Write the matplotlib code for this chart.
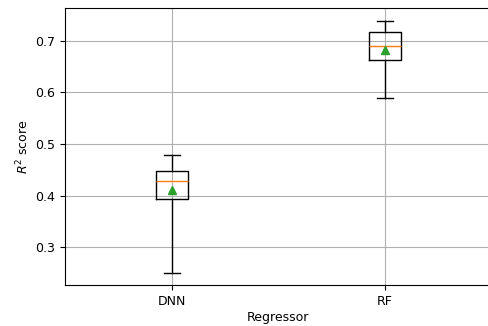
import matplotlib
matplotlib.use('Agg')
import matplotlib.pyplot as plt

# Resumo das distribuições de R² por regressor
regressores = ['DNN', 'RF']
whislo = [0.251, 0.589]
q1 = [0.394, 0.663]
med = [0.429, 0.690]
q3 = [0.447, 0.716]
whishi = [0.479, 0.738]
media = [0.411, 0.681]

stats = []
for i, nome in enumerate(regressores):
    stats.append({'label': nome, 'whislo': whislo[i], 'q1': q1[i], 'med': med[i],
                  'q3': q3[i], 'whishi': whishi[i], 'mean': media[i], 'fliers': []})

fig = plt.figure(figsize=(4.88, 3.26), dpi=100)
ax = fig.add_axes([0.133, 0.125, 0.8745, 0.8495])
ax.bxp(stats, showmeans=True)

ax.set_xlabel('Regressor', fontsize=9, labelpad=2)
ax.set_ylabel('$R^2$ score', fontsize=9, labelpad=3)
ax.tick_params(labelsize=9)
ax.grid(True)

fig.savefig('out.png', dpi=100)
